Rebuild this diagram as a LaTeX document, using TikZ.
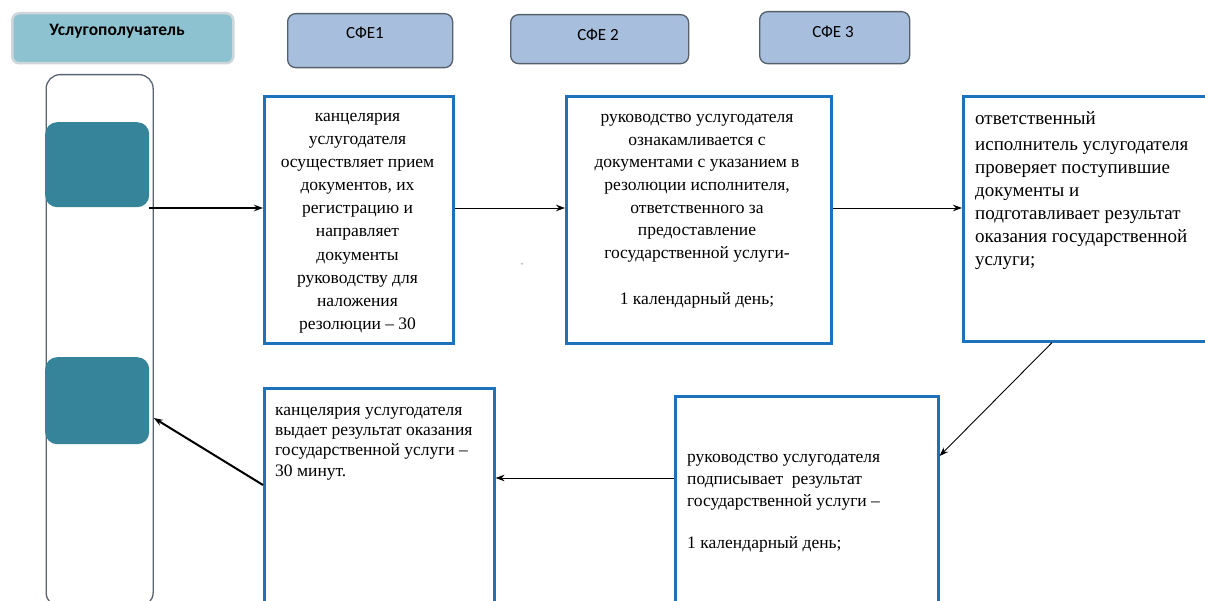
\documentclass[tikz,border=0pt]{standalone}
\usepackage{fontspec}
\setmainfont{Liberation Serif}
\newfontfamily\hdr{Carlito}
\usetikzlibrary{arrows.meta}
\definecolor{hdrteal}{HTML}{8DC3D0}
\definecolor{hdrrim}{HTML}{CDD6DA}
\definecolor{sfefill}{HTML}{A7BEDD}
\definecolor{sfedraw}{HTML}{56606B}
\definecolor{laneline}{HTML}{5A6470}
\definecolor{tealblk}{HTML}{36849A}
\definecolor{boxblue}{HTML}{1D72BB}
\tikzset{
  hdrbox/.style={draw=hdrrim, line width=2.5pt, fill=hdrteal, rounded corners=7pt, anchor=north west, inner sep=0pt},
  sfebox/.style={draw=sfedraw, line width=1.3pt, fill=sfefill, rounded corners=8pt, anchor=north west, inner sep=0pt},
  lanebox/.style={draw=laneline, line width=1.3pt, rounded corners=14pt, anchor=north west, inner sep=0pt},
  tealbox/.style={fill=tealblk, rounded corners=12pt, anchor=north west, inner sep=0pt},
  stepbox/.style={draw=boxblue, line width=2.6pt, anchor=north west, inner sep=0pt},
  hdrtxt/.style={font=\hdr\fontsize{17}{19}\selectfont, inner sep=0pt},
  bodytxt/.style={font=\fontsize{17.5}{22.8}\selectfont, inner sep=0pt},
  arr/.style={-{Stealth[length=9pt,width=6.5pt]}, line width=0.9pt},
  thickarr/.style={-{Stealth[length=9pt,width=6.5pt]}, line width=2pt},
}
\begin{document}
\begin{tikzpicture}[x=1pt,y=-1pt]
\useasboundingbox (0,0) rectangle (1205,601);
\clip (0,0) rectangle (1205,601);
\fill[white] (0,0) rectangle (1205,601);
% headers
\node[hdrbox, minimum width=221pt, minimum height=50pt] (h0) at (11,12) {};
\node[hdrtxt, font=\hdr\bfseries\fontsize{17.5}{19}\selectfont] (h0t) at (117,31) {Услугополучатель};
\node[sfebox, minimum width=165pt, minimum height=54pt] (h1) at (287,13) {};
\node[hdrtxt] (h1t) at (365,33) {СФЕ1};
\node[sfebox, minimum width=178pt, minimum height=49pt] (h2) at (510,14) {};
\node[hdrtxt] (h2t) at (598,35) {СФЕ 2};
\node[sfebox, minimum width=150pt, minimum height=52pt] (h3) at (759,11) {};
\node[hdrtxt] (h3t) at (833,32) {СФЕ 3};
% lane
\node[lanebox, minimum width=107pt, minimum height=532pt] (lane) at (45.5,74) {};
\node[tealbox, minimum width=104pt, minimum height=85pt] (t1) at (45,122) {};
\node[tealbox, minimum width=104pt, minimum height=87pt] (t2) at (45,357) {};
% step boxes
\node[stepbox, minimum width=189pt, minimum height=247pt] (b1) at (263,95) {};
\node[stepbox, minimum width=265pt, minimum height=247pt] (b2) at (565,95) {};
\node[stepbox, minimum width=260pt, minimum height=245pt] (b3) at (962,95) {};
\node[stepbox, minimum width=263pt, minimum height=230pt] (b4) at (674,395) {};
\node[stepbox, minimum width=230pt, minimum height=230pt] (b5) at (263,387) {};
% texts
\node[bodytxt, align=center, anchor=north, font=\fontsize{17.5}{23.1}\selectfont] (x1) at (357.5,113) {канцелярия\\услугодателя\\осуществляет прием\\документов, их\\регистрацию и\\направляет\\документы\\руководству для\\наложения\\резолюции – 30};
\node[bodytxt, align=center, anchor=north, font=\fontsize{17.5}{22.7}\selectfont] (x2) at (697,114) {руководство услугодателя\\ознакамливается с\\документами с указанием в\\резолюции исполнителя,\\ответственного за\\предоставление\\государственной услуги-\\[23pt]1 календарный день;};
\node[bodytxt, align=left, anchor=north west, font=\fontsize{19}{23}\selectfont] (x3) at (975,111) {ответственный\\[3pt]исполнитель услугодателя\\проверяет поступившие\\документы и\\подготавливает результат\\оказания государственной\\услуги;};
\node[bodytxt, align=left, anchor=north west, font=\fontsize{17.5}{21.8}\selectfont] (x4) at (687,454) {руководство услугодателя\\подписывает~ результат\\государственной услуги –\\[21pt]1 календарный день;};
\node[bodytxt, align=left, anchor=north west, font=\fontsize{17.5}{20.2}\selectfont] (x5) at (275,407) {канцелярия услугодателя\\выдает результат оказания\\государственной услуги –\\30 минут.};
\node[font=\fontsize{9}{9}\selectfont, text=gray, inner sep=0pt] (dash) at (522,265) {-};
% connectors
\coordinate (ya) at (0,208);
\coordinate (xb) at (1052,0);
\coordinate (yb) at (0,456);
\coordinate (yc) at (0,478);
\coordinate (yd) at (0,485);
\coordinate (ye) at (0,418);
\draw[thickarr] (t1.east |- ya) -- (b1.west |- ya);
\draw[arr] (b1.east |- ya) -- (b2.west |- ya);
\draw[arr] (b2.east |- ya) -- (b3.west |- ya);
\draw[arr] (b3.south -| xb) -- (b4.east |- yb);
\draw[arr] (b4.west |- yc) -- (b5.east |- yc);
\draw[thickarr] (b5.west |- yd) -- (lane.east |- ye);
\end{tikzpicture}
\end{document}
